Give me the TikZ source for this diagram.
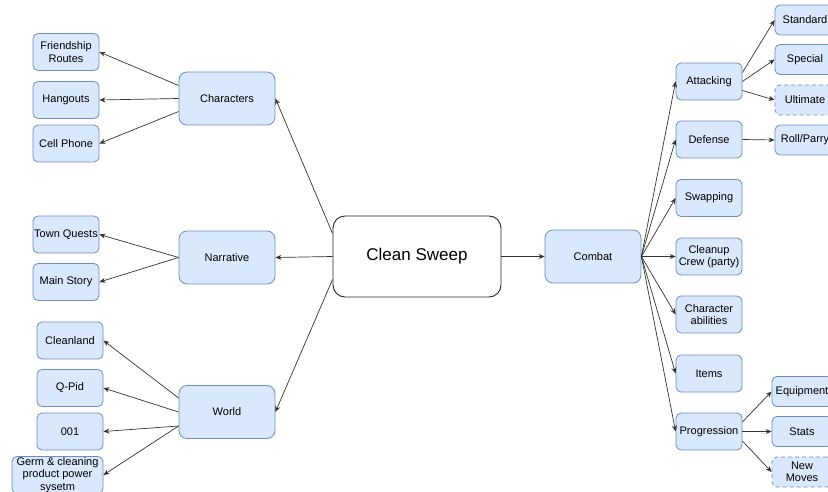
\documentclass[tikz,border=0pt]{standalone}
\usepackage{fontspec}
\setmainfont{Liberation Sans}
\usetikzlibrary{arrows.meta}
\definecolor{boxfill}{HTML}{DAE8FC}
\definecolor{boxline}{HTML}{6C8EBF}
\begin{document}
\begin{tikzpicture}[
x=1pt, y=-1pt,
box/.style={draw=boxline, fill=boxfill, line width=0.8pt, rounded corners=5pt,
  align=center, inner sep=0pt, minimum width=66pt, minimum height=37pt,
  font=\fontsize{11}{12.5}\selectfont},
topic/.style={box, minimum width=96pt, minimum height=53pt, rounded corners=8pt},
leaf/.style={box, minimum width=60pt, minimum height=30pt},
planned/.style={dash pattern=on 4pt off 3pt},
root/.style={draw=black!85, fill=white, line width=0.9pt, rounded corners=12pt,
  minimum width=168pt, minimum height=81pt, font=\fontsize{17}{20}\selectfont},
link/.style={-{Stealth[length=6pt,width=5pt]}, line width=0.7pt, draw=black!80}]
\useasboundingbox (0,0) rectangle (828,492);

% centre and main branches
\node[root] (sweep) at (417,256.5) {Clean Sweep};
\node[topic] (chars) at (227,98.5) {Characters};
\node[topic] (narr) at (227,257.5) {Narrative};
\node[topic] (world) at (227,412) {World};
\node[topic] (combat) at (593,256.5) {Combat};

% left side
\node[box] (routes) at (66,52) {Friendship\\Routes};
\node[box] (hangouts) at (66,100) {Hangouts};
\node[box] (phone) at (66,143.5) {Cell Phone};
\node[box] (townq) at (66,234.5) {Town Quests};
\node[box] (mainst) at (66,282) {Main Story};
\node[box] (cleanland) at (70,340.5) {Cleanland};
\node[box] (qpid) at (70,388) {Q-Pid};
\node[box] (zeroone) at (70,431.5) {001};
\node[box, minimum width=91pt] (germ) at (57.5,475) {Germ \& cleaning\\product power\\sysetm};

% combat
\node[box] (attack) at (709,81.5) {Attacking};
\node[box] (defense) at (709,139.5) {Defense};
\node[box] (swap) at (709,198) {Swapping};
\node[box] (crew) at (709,256.5) {Cleanup\\Crew (party)};
\node[box] (abil) at (709,314.5) {Character\\abilities};
\node[box] (items) at (709,373.5) {Items};
\node[box] (prog) at (709,431.5) {Progression};

\node[leaf] (standard) at (805,20) {Standard};
\node[leaf] (special) at (805,59.5) {Special};
\node[leaf, planned] (ultimate) at (805,100) {Ultimate};
\node[leaf] (roll) at (805,140) {Roll/Parry};
\node[leaf] (equip) at (802,391.5) {Equipment};
\node[leaf] (stats) at (802,431.5) {Stats};
\node[leaf, planned] (newmoves) at (802,472) {New\\Moves};

% connectors
\draw[link] ([yshift=23pt]sweep.west) -- (chars.east);
\draw[link] (sweep.west) -- (narr.east);
\draw[link] ([yshift=-23pt]sweep.west) -- (world.east);
\draw[link] (sweep.east) -- (combat.west);

\draw[link] ([yshift=13pt]chars.west) -- (routes.east);
\draw[link] (chars.west) -- (hangouts.east);
\draw[link] ([yshift=-13pt]chars.west) -- (phone.east);
\draw[link] (narr.west) -- (townq.east);
\draw[link] (narr.west) -- (mainst.east);
\draw[link] ([yshift=14pt]world.west) -- (cleanland.east);
\draw[link] (world.west) -- (qpid.east);
\draw[link] ([yshift=-14pt]world.west) -- (zeroone.east);
\draw[link] ([yshift=-14pt]world.west) -- (germ.east);

\foreach \n in {attack,defense,swap,crew,abil,items,prog}
  \draw[link] (combat.east) -- (\n.west);

\draw[link] ([yshift=9pt]attack.east) -- (standard.west);
\draw[link] (attack.east) -- (special.west);
\draw[link] ([yshift=-9pt]attack.east) -- (ultimate.west);
\draw[link] (defense.east) -- (roll.west);
\draw[link] ([yshift=9.5pt]prog.east) -- (equip.west);
\draw[link] (prog.east) -- (stats.west);
\draw[link] ([yshift=-9.5pt]prog.east) -- (newmoves.west);
\end{tikzpicture}
\end{document}
